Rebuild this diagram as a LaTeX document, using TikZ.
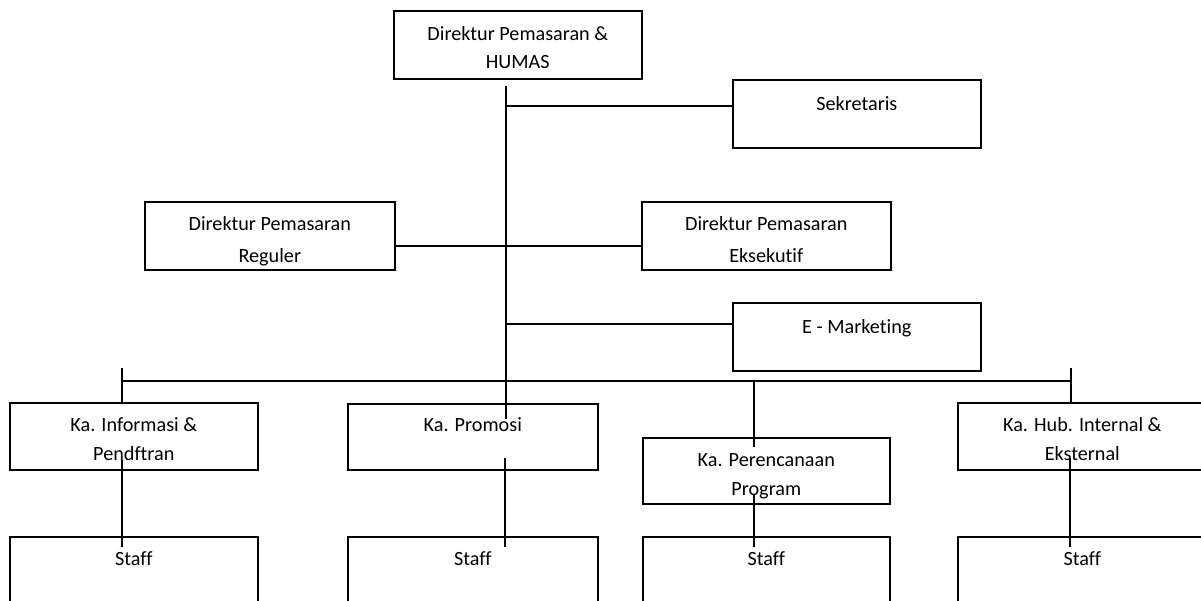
\documentclass[tikz,border=0pt]{standalone}
\usepackage{fontspec}
\setmainfont{Carlito}[Ligatures=NoCommon]
\begin{document}
\begin{tikzpicture}[x=1pt,y=-1pt,
  box/.style={draw=black,line width=1.6pt,fill=white,rectangle,inner sep=0pt,anchor=north west},
  txt/.style={font=\fontsize{20.2}{24}\selectfont,anchor=base,inner sep=0pt},
  conn/.style={draw=black,line width=1.6pt}]
\useasboundingbox (0,0) rectangle (1201,600);
\clip (0,0) rectangle (1201,600);
% boxes
\node[box,minimum width=248pt,minimum height=68pt] (dir) at (393,10) {};
\node[box,minimum width=248pt,minimum height=68pt] (sek) at (732,79) {};
\node[box,minimum width=250pt,minimum height=68pt] (reg) at (144,201) {};
\node[box,minimum width=249pt,minimum height=68pt] (eks) at (641,201) {};
\node[box,minimum width=248pt,minimum height=68pt] (emk) at (732,302) {};
\node[box,minimum width=248pt,minimum height=67pt] (inf) at (9,402) {};
\node[box,minimum width=250pt,minimum height=66pt] (pro) at (347,403) {};
\node[box,minimum width=247pt,minimum height=66pt] (per) at (642,437) {};
\node[box,minimum width=249pt,minimum height=67pt] (hub) at (957,402) {};
\node[box,minimum width=248pt,minimum height=80pt] (s1) at (9,536) {};
\node[box,minimum width=250pt,minimum height=80pt] (s2) at (347,536) {};
\node[box,minimum width=247pt,minimum height=80pt] (s3) at (642,536) {};
\node[box,minimum width=249pt,minimum height=80pt] (s4) at (957,536) {};
% texts
\node[txt] (tdir1) at ([yshift=-30pt]dir.north) {Direktur Pemasaran \&};
\node[txt] (tdir2) at ([yshift=-58pt]dir.north) {HUMAS};
\node[txt] (tsek) at ([yshift=-31pt]sek.north) {Sekretaris};
\node[txt] (treg1) at ([yshift=-29pt]reg.north) {Direktur Pemasaran};
\node[txt] (treg2) at ([yshift=-61pt]reg.north) {Reguler};
\node[txt] (teks1) at ([yshift=-29pt]eks.north) {Direktur Pemasaran};
\node[txt] (teks2) at ([yshift=-61pt]eks.north) {Eksekutif};
\node[txt] (temk) at ([yshift=-31pt]emk.north) {E - Marketing};
\node[txt] (tinf1) at ([yshift=-29pt]inf.north) {Ka. Informasi \&};
\node[txt] (tinf2) at ([yshift=-58pt]inf.north) {Pendftran};
\node[txt] (tpro) at ([yshift=-28pt]pro.north) {Ka. Promosi};
\node[txt] (tper1) at ([yshift=-29pt]per.north) {Ka. Perencanaan};
\node[txt] (tper2) at ([yshift=-58pt]per.north) {Program};
\node[txt] (thub1) at ([yshift=-29pt]hub.north) {Ka. Hub. Internal \&};
\node[txt] (thub2) at ([yshift=-58pt]hub.north) {Eksternal};
\node[txt] (ts1) at ([yshift=-29pt]s1.north) {Staff};
\node[txt] (ts2) at ([yshift=-29pt]s2.north) {Staff};
\node[txt] (ts3) at ([yshift=-29pt]s3.north) {Staff};
\node[txt] (ts4) at ([yshift=-29pt]s4.north) {Staff};
% redraw bottom borders over text (as in reference)
\draw[line width=1.6pt] (reg.south west) -- (reg.south east);
\draw[line width=1.6pt] (eks.south west) -- (eks.south east);
% connector coordinates
\coordinate (mtop) at (506,86);
\coordinate (mbot) at (506,419);
\coordinate (j1) at (506,106);
\coordinate (j2) at (506,246);
\coordinate (j3) at (506,324);
\coordinate (busL) at (122,381);
\coordinate (busR) at (1071,381);
\coordinate (busLt) at (122,368);
\coordinate (busRt) at (1071,368);
\coordinate (busM) at (754,381);
\coordinate (perIn) at (754,447);
\coordinate (a1) at (122,460);
\coordinate (a2) at (505,458);
\coordinate (a3) at (754,494);
\coordinate (a4) at (1070,458);
\coordinate (b1) at (122,547);
\coordinate (b2) at (505,547);
\coordinate (b3) at (754,547);
\coordinate (b4) at (1070,547);
% connectors
\draw[conn] (mtop) -- (mbot);
\draw[conn] (j1) -- (j1 -| sek.west);
\draw[conn] (j2 -| reg.east) -- (j2 -| eks.west);
\draw[conn] (j3) -- (j3 -| emk.west);
\draw[conn] (busL) -- (busR);
\draw[conn] (busLt) -- (busLt |- inf.north);
\draw[conn] (busRt) -- (busRt |- hub.north);
\draw[conn] (busM) -- (perIn);
\draw[conn] (a1) -- (b1);
\draw[conn] (a2) -- (b2);
\draw[conn] (a3) -- (b3);
\draw[conn] (a4) -- (b4);
\end{tikzpicture}
\end{document}
